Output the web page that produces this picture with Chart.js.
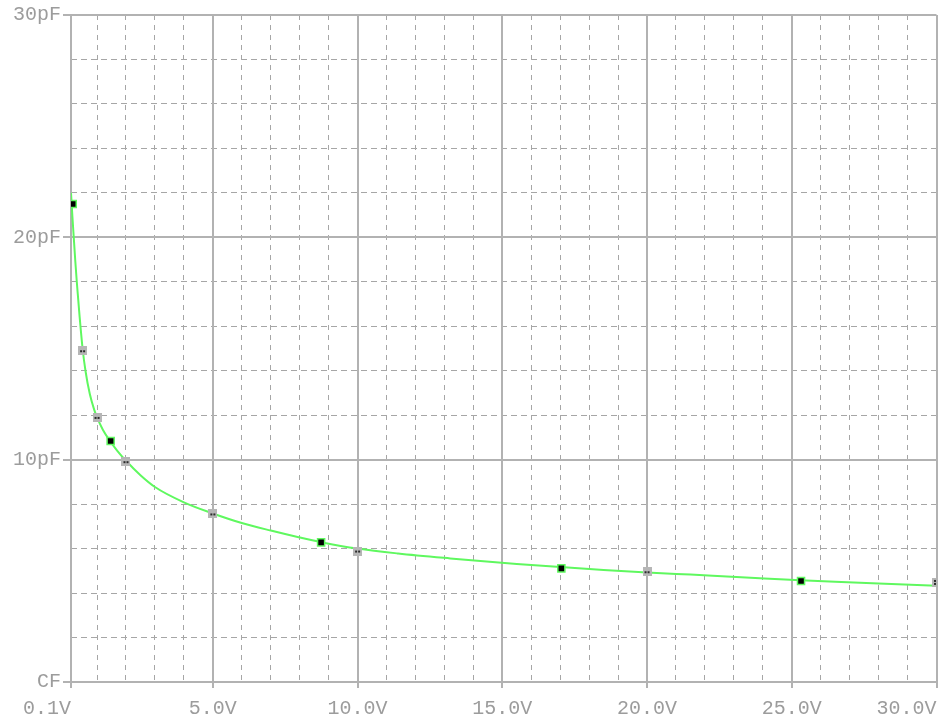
<!DOCTYPE html>
<html>
<head>
<meta charset="utf-8">
<title>Capacitance vs. reverse voltage</title>
<script src="https://cdn.jsdelivr.net/npm/chart.js@4/dist/chart.umd.min.js"></script>
<style>
  html, body { margin: 0; padding: 0; background: #ffffff; }
  canvas { display: block; }
</style>
</head>
<body>
<canvas id="cv" width="943" height="719"></canvas>
<script>
// Reverse voltage (V) against junction capacitance (pF)
const xMajorTicks = [0.1, 5, 10, 15, 20, 25, 30];
const xMajorLabels = ['0.1V', '5.0V', '10.0V', '15.0V', '20.0V', '25.0V', '30.0V'];
const xMinorTicks = [1, 2, 3, 4, 6, 7, 8, 9, 11, 12, 13, 14, 16, 17, 18, 19, 21, 22, 23, 24, 26, 27, 28, 29];
const yMajorTicks = [0, 10, 20, 30];
const yMajorLabels = ['CF', '10pF', '20pF', '30pF'];
const yMinorTicks = [2, 4, 6, 8, 12, 14, 16, 18, 22, 24, 26, 28];

// simulated curve
const curveVolts = [0.1, 0.15, 0.2, 0.25, 0.3, 0.35, 0.4, 0.5, 0.6, 0.75, 0.9, 1.0, 1.2, 1.47, 1.7, 2.0, 2.5, 3.0, 4.0, 5.0, 6.0, 7.0, 8.0, 8.74, 10.0, 11.4, 13.2, 15.5, 17.0, 18.5, 20.0, 21.5, 23.9, 25.3, 26.5, 28.0, 30.0];
const curvePf    = [22.0, 20.9, 19.9, 18.9, 18.0, 17.2, 16.4, 15.0, 14.0, 12.95, 12.25, 11.9, 11.35, 10.8, 10.4, 9.95, 9.3, 8.77, 8.08, 7.58, 7.15, 6.81, 6.5, 6.29, 6.0, 5.78, 5.56, 5.31, 5.17, 5.04, 4.93, 4.83, 4.67, 4.58, 4.51, 4.43, 4.33];

// measured points (solid markers)
const solidVolts = [0.16, 1.47, 8.74, 17.04, 25.32];
const solidPf    = [21.5, 10.84, 6.28, 5.11, 4.54];

// datasheet points (grey markers)
const sheetVolts = [0.5, 1.0, 2.0, 5.0, 10.0, 20.0, 30.0];
const sheetPf    = [14.9, 11.9, 9.91, 7.56, 5.89, 4.96, 4.48];

const FONT = { family: "'Liberation Mono', 'DejaVu Sans Mono', monospace", size: 20 };
const TEXT = '#9c9c9c';
const MAJOR = '#b2b2b2';
const MINOR = '#a6a6a6';
const GREEN = '#5ff85f';

function greyMarker(dots) {
  const c = document.createElement('canvas');
  c.width = 9; c.height = 9;
  const g = c.getContext('2d');
  g.fillStyle = '#b6b6b6';
  g.fillRect(0, 0, 9, 9);
  g.fillStyle = '#2c2c2c';
  dots.forEach(([dx, dy]) => g.fillRect(dx, dy, 2, 2));
  return c;
}
const twoDots = greyMarker([[2, 4], [5, 4]]);
const fourDots = greyMarker([[2, 2], [5, 2], [2, 5], [5, 5]]);

function zip(xs, ys) { return xs.map((x, i) => ({ x, y: ys[i] })); }
function setTicks(values) { return scale => { scale.ticks = values.map(v => ({ value: v })); }; }
function noPad(scale) { scale.paddingLeft = 0; scale.paddingRight = 0; scale.paddingTop = 0; scale.paddingBottom = 0; }

new Chart(document.getElementById('cv'), {
  type: 'line',
  data: {
    datasets: [
      {
        data: zip(solidVolts, solidPf),
        showLine: false,
        pointStyle: 'rect',
        pointRadius: 5,
        pointBackgroundColor: '#000000',
        pointBorderColor: GREEN,
        pointBorderWidth: 1.5,
        order: 0
      },
      {
        data: zip(sheetVolts, sheetPf),
        showLine: false,
        pointStyle: sheetVolts.map((v, i) => i === sheetVolts.length - 1 ? fourDots : twoDots),
        pointRadius: 5,
        order: 1
      },
      {
        data: zip(curveVolts, curvePf),
        borderColor: GREEN,
        borderWidth: 2,
        pointRadius: 0,
        cubicInterpolationMode: 'monotone',
        fill: false,
        order: 2
      }
    ]
  },
  options: {
    responsive: false,
    animation: false,
    events: [],
    layout: { padding: { top: 15, right: 5, left: 0, bottom: 0 } },
    plugins: { legend: { display: false }, tooltip: { enabled: false } },
    scales: {
      xMinor: {
        type: 'linear', position: 'bottom', min: 0.1, max: 30,
        afterBuildTicks: setTicks(xMinorTicks),
        afterFit: s => { noPad(s); s.height = 0; },
        ticks: { display: false },
        grid: { color: MINOR, lineWidth: 1, drawTicks: false },
        border: { display: false, dash: [5, 5] }
      },
      yMinor: {
        type: 'linear', position: 'left', min: 0, max: 30,
        afterBuildTicks: setTicks(yMinorTicks),
        afterFit: s => { noPad(s); s.width = 0; },
        ticks: { display: false },
        grid: { color: MINOR, lineWidth: 1, drawTicks: false },
        border: { display: false, dash: [6, 4] }
      },
      x: {
        type: 'linear', position: 'bottom', min: 0.1, max: 30,
        afterBuildTicks: setTicks(xMajorTicks),
        afterFit: s => { noPad(s); s.height = 37; },
        ticks: {
          autoSkip: false, maxRotation: 0, padding: 9, color: TEXT, font: FONT,
          callback: (v, i) => {
            const t = xMajorLabels[i];
            // the end labels sit on the inner side of their tick
            return (i === 0 || i === xMajorLabels.length - 1) ? t + ' '.repeat(t.length) : t;
          }
        },
        grid: { color: MAJOR, lineWidth: 2, tickLength: 6, tickColor: MAJOR, tickWidth: 2 },
        border: { display: true, color: MAJOR, width: 2 }
      },
      y: {
        type: 'linear', position: 'left', min: 0, max: 30,
        afterBuildTicks: setTicks(yMajorTicks),
        afterFit: s => { noPad(s); s.width = 71; },
        ticks: {
          padding: 2, color: TEXT, font: FONT,
          callback: (v, i) => yMajorLabels[i]
        },
        grid: { color: MAJOR, lineWidth: 2, tickLength: 8, tickColor: MAJOR, tickWidth: 2 },
        border: { display: true, color: MAJOR, width: 2 }
      }
    }
  }
});
</script>
</body>
</html>
